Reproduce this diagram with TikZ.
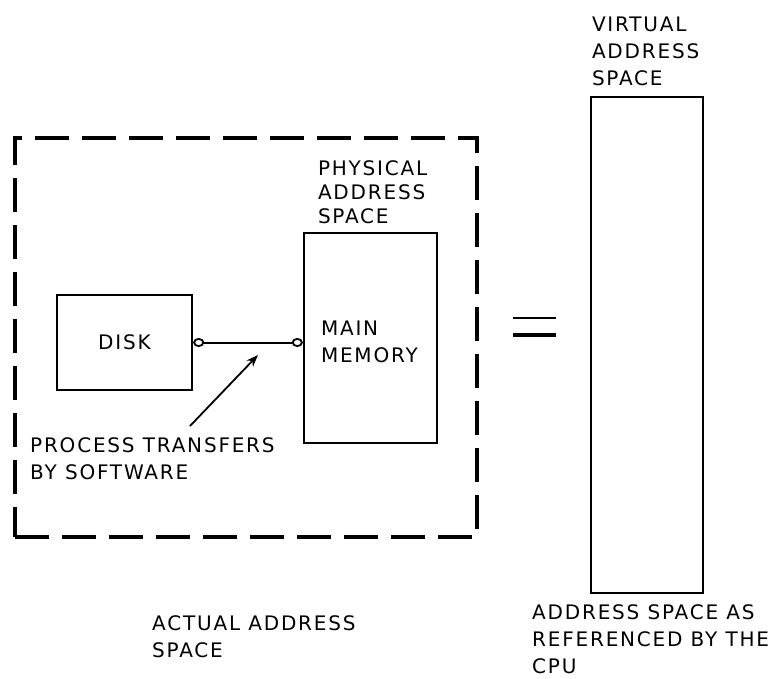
\documentclass[tikz,border=0pt]{standalone}
\usepackage{fontspec}
\newfontfamily\capsfont{DejaVu Sans}[LetterSpace=9]
\usetikzlibrary{positioning,arrows.meta}

\begin{document}
\begin{tikzpicture}[
    x=1pt,y=-1pt,>=Stealth,
    box/.style={rectangle,draw,line width=2.4pt,inner sep=0pt},
    lbl/.style={font=\capsfont\fontsize{20}{27}\selectfont,align=left,inner sep=0pt},
    endring/.tip={Circle[open,length=11pt,width=9pt,line width=1.8pt]}]
    \useasboundingbox (0,0) rectangle (778,679);

    % the boxes
    \node[box,line width=3.2pt,dash pattern=on 34pt off 13pt,minimum width=462pt,minimum height=399pt] (actual) at (246,337.5) {};
    \node[box,lbl,minimum width=135pt,minimum height=95pt] (disk) at (124.5,342.5) {DISK};
    \node[box,minimum width=133pt,minimum height=210pt] (mem) at (370.5,338) {};
    \node[box,minimum width=112pt,minimum height=496pt] (virt) at (647,345) {};

    % the labels
    \node[lbl,right=18pt of mem.west,yshift=-4pt] (memlbl) {MAIN\\MEMORY};
    \node[lbl,font=\capsfont\fontsize{20}{24}\selectfont,above right=8pt and 15pt of mem.north west] (phys) {PHYSICAL\\ADDRESS\\SPACE};
    \node[lbl,above right=10pt and 2pt of virt.north west] (virtlbl) {VIRTUAL\\ADDRESS\\SPACE};
    \node[lbl,anchor=north west] (proc) at (30,437) {PROCESS TRANSFERS\\BY SOFTWARE};
    \node[lbl,anchor=north west] (actlbl) at (152,615) {ACTUAL ADDRESS\\SPACE};
    \node[lbl,anchor=north west] (cpu) at (532,604) {ADDRESS SPACE AS\\REFERENCED BY THE\\CPU};

    \coordinate (ptail) at (190,426);
    \coordinate (ptip) at (258,355);

    % transfers
    \draw[endring-endring,line width=2pt] (disk.east) -- (disk.east -| mem.west);
    \draw[line width=1.8pt,-{Stealth[length=12pt,width=9pt]}] (ptail) -- (ptip);

    % equals sign
    \draw[line width=2.4pt] (513,318) -- (556,318);
    \draw[line width=4pt] (513,335) -- (556,335);
\end{tikzpicture}
\end{document}
